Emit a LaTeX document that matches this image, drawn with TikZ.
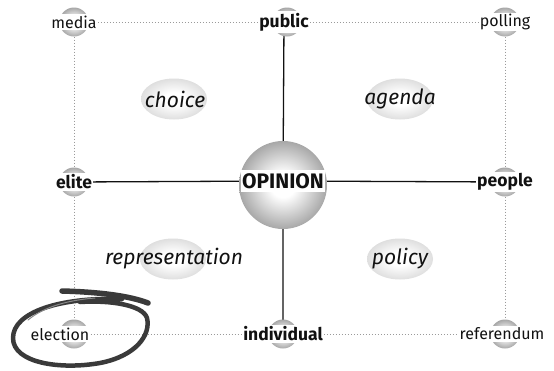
\documentclass[tikz,border=0pt]{standalone}
\usepackage{fontspec}
\setmainfont{Fira Sans}
\usepackage{tikz}
\usetikzlibrary{backgrounds,shapes.geometric}
\definecolor{ink}{HTML}{111111}
\definecolor{dotgray}{HTML}{9A9A9A}
\definecolor{brush}{HTML}{3A3A3A}
\pgfdeclareradialshading{sphere}{\pgfpoint{0bp}{0bp}}{color(0bp)=(white); color(7bp)=(white); color(28bp)=(black!40); color(50bp)=(black!65)}
\pgfdeclareradialshading{haze}{\pgfpoint{0bp}{0bp}}{color(0bp)=(white); color(8bp)=(white); color(35bp)=(black!20); color(50bp)=(black!30)}
\tikzset{
  every node/.style={text=ink},
  ball/.style={circle,minimum size=29pt,inner sep=0pt,shading=sphere},
  bigball/.style={ball,minimum size=88pt},
  tag/.style={fill=white,inner xsep=1pt,inner ysep=1.5pt,font=\fontsize{16}{18}\selectfont},
  keytag/.style={tag,font=\fontsize{17.5}{19}\selectfont\bfseries},
  bigtag/.style={tag,inner ysep=3pt,font=\fontsize{21}{24}\selectfont\bfseries},
  blob/.style={ellipse,minimum width=66pt,minimum height=41pt,inner sep=0pt,shading=haze},
  topic/.style={inner sep=0pt,font=\fontsize{21}{23}\selectfont\itshape},
  axis/.style={draw=ink,line width=1.3pt},
  dots/.style={draw=dotgray,dotted,line width=1pt},
  scrawl/.style={draw=brush,line cap=round,line join=round}
}

\begin{document}
\begin{tikzpicture}[x=1pt,y=-1pt]
  \useasboundingbox (0,0) rectangle (554,370);

  % quadrant themes
  \node[blob] (choice-b) at (174,99) {};
  \node[blob] (agenda-b) at (400,99) {};
  \node[blob] (repr-b) at (173,259) {};
  \node[blob] (policy-b) at (400,259) {};
  \node[topic] (choice) at (175,99) {choice};
  \node[topic] (agenda) at (400,99) {agenda};
  \node[topic] (repr) at (174,259) {representation};
  \node[topic] (policy) at (400,259) {policy};

  % spheres
  \node[ball] (media-b) at (74,22) {};
  \node[ball] (public-b) at (287,22) {};
  \node[ball] (polling-b) at (505,22) {};
  \node[ball] (elite-b) at (74,182) {};
  \node[bigball] (opinion-b) at (283,185) {};
  \node[ball] (people-b) at (505,182) {};
  \node[ball] (election-b) at (74,334) {};
  \node[ball] (individual-b) at (283,334) {};
  \node[ball] (referendum-b) at (505,334) {};

  % labels
  \node[tag] (media) at (74,22) {media};
  \node[keytag] (public) at (284,22) {public};
  \node[tag] (polling) at (505,22) {polling};
  \node[keytag] (elite) at (74,182) {elite};
  \node[bigtag] (opinion) at (283,181) {OPINION};
  \node[keytag] (people) at (505,182) {people};
  \node[tag] (election) at (60,334) {election};
  \node[keytag] (individual) at (283,334) {individual};
  \node[tag] (referendum) at (502,334) {referendum};

  \begin{scope}[on background layer]
    \draw[axis] (elite) -- (opinion) -- (people);
    \draw[axis] (public) -- (opinion) -- (individual);
    \draw[dots] (media) -- (public) -- (polling);
    \draw[dots] (election) -- (individual) -- (referendum);
    \draw[dots] (media-b) -- (elite-b) -- (election-b);
    \draw[dots] (polling-b) -- (people-b) -- (referendum-b);
  \end{scope}

  % the hand-drawn ring round election
  \draw[scrawl,line width=5.5pt] (62,291) .. controls (100,292) and (130,296) .. (148,303);
  \draw[scrawl,line width=4.5pt] (122,299) .. controls (60,297) and (13,312) .. (13,338)
    .. controls (13,363) and (60,370) .. (100,363)
    .. controls (136,356) and (151,335) .. (147,318)
    .. controls (143,305) and (110,300) .. (80,302);
  \draw[scrawl,line width=1pt,draw=brush!60] (28,320) .. controls (45,306) and (70,300) .. (95,298);
\end{tikzpicture}
\end{document}
